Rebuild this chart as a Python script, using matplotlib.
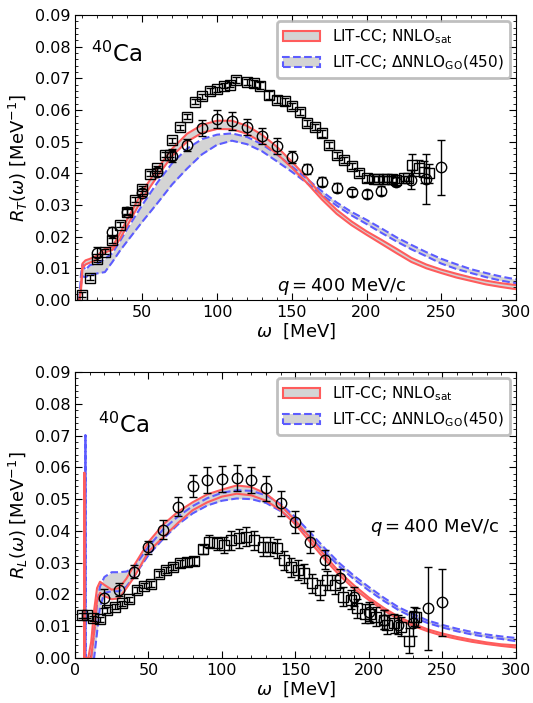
import numpy as np
import matplotlib
matplotlib.use("Agg")
from matplotlib import pyplot as plt
from matplotlib.patches import Patch
from matplotlib.ticker import MultipleLocator

# ---------------- transverse response R_T ----------------
rt_sq_w = [10, 15, 20, 25, 30, 35, 40, 45, 50, 55, 60, 65, 68.5, 70, 75, 80, 85, 90, 95,
           100, 105, 108.5, 113, 120, 124.5, 129, 135, 140, 145.5, 150, 155.5, 160, 165.5,
           170, 175, 180, 185, 190, 195, 200, 205, 208, 211.5, 214, 217, 220, 225, 228,
           230.5, 235, 238.5, 241.5]
rt_sq_r = [0.0016, 0.0070, 0.0128, 0.0153, 0.0189, 0.0237, 0.0279, 0.0316, 0.0352, 0.0398,
           0.0416, 0.0458, 0.0458, 0.0505, 0.0546, 0.0579, 0.0626, 0.0643, 0.0660,
           0.0666, 0.0676, 0.0679, 0.0695, 0.0688, 0.0684, 0.0677, 0.0648, 0.0633, 0.0627,
           0.0612, 0.0594, 0.0558, 0.0547, 0.0526, 0.0489, 0.0458, 0.0442, 0.0424, 0.0402,
           0.0384, 0.0382, 0.0382, 0.0382, 0.0382, 0.0382, 0.0379, 0.0384, 0.0384,
           0.0426, 0.0416, 0.0405, 0.0400]
rt_sq_e = [0.0008, 0.0008, 0.0008, 0.0008, 0.0008, 0.0008, 0.0008, 0.0008, 0.0008, 0.0008,
           0.0008, 0.0008, 0.0008, 0.0008, 0.0008, 0.0008, 0.0008, 0.0008, 0.0008,
           0.0008, 0.0008, 0.0008, 0.0010, 0.0010, 0.0010, 0.0010, 0.0012, 0.0012, 0.0012,
           0.0010, 0.0010, 0.0010, 0.0010, 0.0010, 0.0010, 0.0010, 0.0010, 0.0010, 0.0010,
           0.0010, 0.0008, 0.0008, 0.0008, 0.0008, 0.0008, 0.0010, 0.0008, 0.0008,
           0.0035, 0.0025, 0.0035, 0.0030]

rt_ci_w = [20, 30, 40, 50, 60, 70, 80, 90, 100, 110, 120, 130, 140, 150, 160, 170, 180,
           190, 200, 210, 220, 230, 240, 250]
rt_ci_r = [0.0147, 0.0216, 0.0279, 0.0339, 0.0405, 0.0456, 0.0489, 0.0544, 0.0572, 0.0566,
           0.0545, 0.0518, 0.0487, 0.0451, 0.0413, 0.0374, 0.0355, 0.0340, 0.0335, 0.0345,
           0.0374, 0.0379, 0.0381, 0.0419]
rt_ci_e = [0.0021, 0.0015, 0.0010, 0.0012, 0.0012, 0.0020, 0.0020, 0.0025, 0.0028, 0.0028,
           0.0025, 0.0025, 0.0025, 0.0020, 0.0015, 0.0015, 0.0015, 0.0012, 0.0012, 0.0015,
           0.0015, 0.0030, 0.0079, 0.0087]

rt_w = [8, 9, 10, 12, 15, 20, 25, 30, 35, 40, 50, 60, 70, 80, 90, 100, 110, 120, 130, 140,
        150, 160, 170, 180, 190, 200, 210, 220, 230, 240, 250, 260, 270, 280, 290, 300]
rt_sat_hi = [0.0, 0.0040, 0.0115, 0.0125, 0.0130, 0.0140, 0.0162, 0.0168, 0.0210, 0.0255,
             0.0342, 0.0413, 0.0478, 0.0525, 0.0553, 0.0566, 0.0566, 0.0550, 0.0522, 0.0484,
             0.0437, 0.0387, 0.0330, 0.0285, 0.0248, 0.0217, 0.0190, 0.0162, 0.0133, 0.0112,
             0.0096, 0.0083, 0.0071, 0.0061, 0.0053, 0.0047]
rt_sat_lo = [0.0, 0.0030, 0.0100, 0.0112, 0.0118, 0.0128, 0.0150, 0.0158, 0.0192, 0.0235,
             0.0320, 0.0390, 0.0455, 0.0500, 0.0528, 0.0540, 0.0539, 0.0525, 0.0498, 0.0462,
             0.0418, 0.0370, 0.0318, 0.0272, 0.0236, 0.0206, 0.0177, 0.0148, 0.0120, 0.0100,
             0.0085, 0.0071, 0.0060, 0.0049, 0.0041, 0.0034]
rt_go_hi = [0.0, 0.0080, 0.0112, 0.0095, 0.0110, 0.0115, 0.0130, 0.0148, 0.0185, 0.0225,
            0.0300, 0.0370, 0.0432, 0.0478, 0.0508, 0.0522, 0.0526, 0.0515, 0.0492, 0.0460,
            0.0422, 0.0383, 0.0344, 0.0308, 0.0278, 0.0253, 0.0226, 0.0198, 0.0174, 0.0151,
            0.0130, 0.0113, 0.0097, 0.0085, 0.0074, 0.0065]
rt_go_lo = [0.0, 0.0050, 0.0075, 0.0072, 0.0079, 0.0084, 0.0088, 0.0120, 0.0155, 0.0186,
            0.0247, 0.0305, 0.0365, 0.0415, 0.0460, 0.0490, 0.0503, 0.0492, 0.0470, 0.0438,
            0.0405, 0.0370, 0.0333, 0.0298, 0.0267, 0.0240, 0.0212, 0.0185, 0.0160, 0.0138,
            0.0115, 0.0098, 0.0085, 0.0072, 0.0061, 0.0053]

# ---------------- longitudinal response R_L ----------------
rl_sq_w = [5, 8, 12, 17, 22, 27, 32, 37, 42, 47, 52, 57, 62, 67, 71.5, 76.5, 81, 87, 91.5,
           96.5, 101.5, 106, 111.5, 116.5, 122, 128, 132.5, 137.5, 142, 147, 151.5, 156,
           161.5, 167, 171.5, 177, 182, 187.5, 192, 197.5, 201, 205, 210, 212.5, 217,
           221.5, 227, 230.5, 232]
rl_sq_r = [0.0135, 0.0135, 0.0125, 0.0122, 0.0151, 0.0161, 0.0172, 0.0185, 0.0214, 0.0227,
           0.0233, 0.0264, 0.0277, 0.0287, 0.0298, 0.0303, 0.0305, 0.0342, 0.0366,
           0.0361, 0.0356, 0.0371, 0.0377, 0.0382, 0.0371, 0.0350, 0.0350, 0.0345, 0.0308,
           0.0285, 0.0277, 0.0267, 0.0235, 0.0214, 0.0245, 0.0230, 0.0193, 0.0183, 0.0156,
           0.0140, 0.0140, 0.0130, 0.0120, 0.0104, 0.0109, 0.0098, 0.0055, 0.0130, 0.0128]
rl_sq_e = [0.0008, 0.0008, 0.0008, 0.0008, 0.0008, 0.0008, 0.0008, 0.0008, 0.0008, 0.0008,
           0.0008, 0.0010, 0.0010, 0.0010, 0.0012, 0.0012, 0.0012, 0.0015, 0.0020,
           0.0020, 0.0025, 0.0030, 0.0030, 0.0030, 0.0030, 0.0030, 0.0030, 0.0030, 0.0030,
           0.0030, 0.0030, 0.0030, 0.0030, 0.0030, 0.0030, 0.0030, 0.0030, 0.0030, 0.0030,
           0.0030, 0.0030, 0.0030, 0.0030, 0.0030, 0.0030, 0.0030, 0.0040, 0.0030, 0.0030]

rl_ci_w = [20, 30, 40, 50, 60, 70, 80, 90, 100, 110, 120, 130, 140, 150, 160, 170, 180,
           190, 200, 210, 220, 230, 240, 250]
rl_ci_r = [0.0188, 0.0215, 0.0272, 0.0348, 0.0403, 0.0476, 0.0541, 0.0560, 0.0563, 0.0567,
           0.0560, 0.0534, 0.0487, 0.0429, 0.0366, 0.0310, 0.0251, 0.0193, 0.0146, 0.0120,
           0.0104, 0.0109, 0.0156, 0.0175]
rl_ci_e = [0.0030, 0.0020, 0.0020, 0.0020, 0.0030, 0.0030, 0.0035, 0.0040, 0.0040, 0.0040,
           0.0040, 0.0040, 0.0040, 0.0035, 0.0035, 0.0030, 0.0030, 0.0030, 0.0030, 0.0030,
           0.0030, 0.0040, 0.0130, 0.0105]

rl_w = [6.25, 6.3, 6.35, 9, 11, 13, 15, 17, 20, 25, 30, 35, 40, 50, 60, 70, 80, 90, 100,
        110, 120, 130, 140, 150, 160, 170, 180, 190, 200, 210, 220, 230, 240, 250, 260, 270,
        280, 290, 300]
rl_sat_hi = [0.0, 0.0583, 0.0, 0.0, 0.0050, 0.0150, 0.0220, 0.0240, 0.0230, 0.0215, 0.0220,
             0.0250, 0.0290, 0.0365, 0.0420, 0.0460, 0.0490, 0.0515, 0.0530, 0.0543, 0.0538,
             0.0517, 0.0480, 0.0432, 0.0378, 0.0322, 0.0270, 0.0228, 0.0190, 0.0158, 0.0130,
             0.0108, 0.0090, 0.0077, 0.0066, 0.0057, 0.0049, 0.0043, 0.0040]
rl_sat_lo = [0.0, 0.0583, 0.0, 0.0, 0.0, 0.0080, 0.0180, 0.0205, 0.0195, 0.0185, 0.0188,
             0.0220, 0.0253, 0.0335, 0.0380, 0.0425, 0.0465, 0.0490, 0.0508, 0.0517, 0.0512,
             0.0495, 0.0465, 0.0420, 0.0365, 0.0310, 0.0260, 0.0217, 0.0182, 0.0150, 0.0122,
             0.0101, 0.0084, 0.0070, 0.0060, 0.0051, 0.0044, 0.0038, 0.0033]
rl_go_w = [7.05, 7.1, 7.15, 11, 13, 15, 17, 20, 25, 30, 35, 40, 50, 60, 70, 80, 90, 100,
           110, 120, 130, 140, 150, 160, 170, 180, 190, 200, 210, 220, 230, 240, 250, 260,
           270, 280, 290, 300]
rl_go_hi = [0.0, 0.0701, 0.0, 0.0, 0.0080, 0.0170, 0.0225, 0.0255, 0.0270, 0.0270, 0.0272,
            0.0285, 0.0350, 0.0405, 0.0445, 0.0478, 0.0503, 0.0520, 0.0528, 0.0526, 0.0512,
            0.0485, 0.0443, 0.0395, 0.0345, 0.0298, 0.0258, 0.0223, 0.0190, 0.0160, 0.0138,
            0.0118, 0.0104, 0.0092, 0.0082, 0.0074, 0.0068, 0.0063]
rl_go_lo = [0.0, 0.0701, 0.0, 0.0, 0.0, 0.0080, 0.0160, 0.0205, 0.0210, 0.0210, 0.0225,
            0.0256, 0.0324, 0.0375, 0.0420, 0.0455, 0.0480, 0.0495, 0.0502, 0.0500, 0.0488,
            0.0462, 0.0425, 0.0380, 0.0333, 0.0287, 0.0247, 0.0212, 0.0180, 0.0151, 0.0128,
            0.0110, 0.0096, 0.0084, 0.0074, 0.0066, 0.0060, 0.0053]

RED = "#ff5c5c"
BLUE = "#5c5cff"
GRAY = "#d4d4d4"


def draw_band(ax, w, lo, hi, color, ls):
    ax.fill_between(w, lo, hi, color=GRAY, lw=0, zorder=1)
    ax.plot(w, hi, color=color, ls=ls, lw=1.5, zorder=2)
    ax.plot(w, lo, color=color, ls=ls, lw=1.5, zorder=2)


def draw_data(ax, w, r, e, marker, size):
    ax.errorbar(w, r, yerr=e, fmt=marker, mfc="none", mec="black", ms=size, mew=1.0,
                ecolor="black", elinewidth=1.0, capsize=3, capthick=1.0, zorder=3)


def style_axes(ax, xmin, ylabel):
    ax.set_xlim(xmin, 300)
    ax.set_ylim(0, 0.09)
    ax.xaxis.set_major_locator(MultipleLocator(50))
    ax.xaxis.set_minor_locator(MultipleLocator(10))
    ax.yaxis.set_major_locator(MultipleLocator(0.01))
    ax.yaxis.set_minor_locator(MultipleLocator(0.002))
    ax.tick_params(which="both", direction="in", top=True, right=True, labelsize=11.5)
    ax.tick_params(which="major", length=5)
    ax.tick_params(which="minor", length=2.5)
    ax.set_xlabel(r"$\omega$  [MeV]", fontsize=13, labelpad=1)
    ax.set_ylabel(ylabel, fontsize=13, labelpad=3)
    handles = [Patch(facecolor=GRAY, edgecolor=RED, lw=1.5, ls="-"),
               Patch(facecolor=GRAY, edgecolor=BLUE, lw=1.5, ls="--")]
    labels = [r"LIT-CC; NNLO$_{\rm sat}$", r"LIT-CC; $\Delta$NNLO$_{\rm GO}$(450)"]
    leg = ax.legend(handles, labels, loc="upper right", fontsize=11, fancybox=True,
                    framealpha=0.8, edgecolor="#b0b0b0", handlelength=2.4,
                    borderpad=0.4, labelspacing=0.5, borderaxespad=0.4)
    leg.get_frame().set_linewidth(2)


fig = plt.figure(figsize=(5.33, 7.03), dpi=100)

ax1 = fig.add_axes([0.1407, 0.5733, 0.8274, 0.4054])
draw_band(ax1, rt_w, rt_go_lo, rt_go_hi, BLUE, "--")
draw_band(ax1, rt_w, rt_sat_lo, rt_sat_hi, RED, "-")
draw_data(ax1, rt_sq_w, rt_sq_r, rt_sq_e, "s", 6.5)
draw_data(ax1, rt_ci_w, rt_ci_r, rt_ci_e, "o", 7.5)
style_axes(ax1, 5, r"$R_T(\omega)$ [MeV$^{-1}$]")
ax1.text(0.036, 0.835, r"$^{40}$Ca", transform=ax1.transAxes, fontsize=16.5)
ax1.text(0.458, 0.03, r"$q = 400$ MeV/c", transform=ax1.transAxes, fontsize=13)

ax2 = fig.add_axes([0.1407, 0.064, 0.8274, 0.4068])
draw_band(ax2, rl_go_w, rl_go_lo, rl_go_hi, BLUE, "--")
draw_band(ax2, rl_w, rl_sat_lo, rl_sat_hi, RED, "-")
draw_data(ax2, rl_sq_w, rl_sq_r, rl_sq_e, "s", 6.5)
draw_data(ax2, rl_ci_w, rl_ci_r, rl_ci_e, "o", 7.5)
style_axes(ax2, 0, r"$R_L(\omega)$ [MeV$^{-1}$]")
ax2.text(0.052, 0.787, r"$^{40}$Ca", transform=ax2.transAxes, fontsize=16.5)
ax2.text(0.669, 0.44, r"$q = 400$ MeV/c", transform=ax2.transAxes, fontsize=13)

fig.savefig("out.png", dpi=100)
